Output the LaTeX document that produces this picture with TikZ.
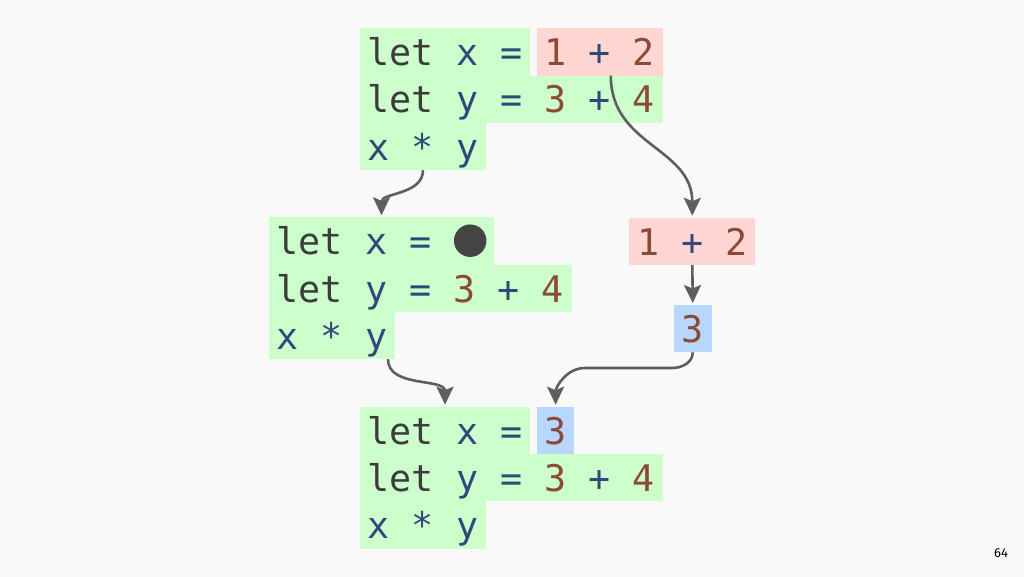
\documentclass[tikz,border=0pt]{standalone}
\usepackage{fontspec}
\setmonofont{DejaVu Sans Mono}
\newfontfamily\pagefont{Fira Sans}
\usetikzlibrary{arrows.meta,calc}
\definecolor{bgc}{HTML}{F9F9F9}
\definecolor{greenc}{HTML}{CCFFCC}
\definecolor{redc}{HTML}{FFD6D2}
\definecolor{bluec}{HTML}{B8D7FF}
\definecolor{kwc}{HTML}{3C3C3C}
\definecolor{idc}{HTML}{2F4A78}
\definecolor{numc}{HTML}{8B4A33}
\definecolor{arrc}{HTML}{5E5E5E}
\definecolor{holec}{HTML}{444444}
\newcommand\cKw[1]{\textcolor{kwc}{#1}}
\newcommand\cId[1]{\textcolor{idc}{#1}}
\newcommand\cNum[1]{\textcolor{numc}{#1}}
\newcommand\codefont{\ttfamily\fontsize{36.7pt}{47.3pt}\selectfont}
\begin{document}
\begin{tikzpicture}[x=1pt,y=-1pt,
  tok/.style={anchor=north west, inner xsep=7.75pt, inner ysep=0pt, outer sep=0pt,
    text height=37.4pt, text depth=9.9pt, font=\codefont},
  gtok/.style={tok, fill=greenc},
  rtok/.style={tok, fill=redc},
  btok/.style={tok, fill=bluec},
  hole/.style={circle, fill=holec, minimum size=32.5pt, inner sep=0pt, outer sep=0pt},
  flow/.style={draw=arrc, line width=2.6pt, shorten >=2pt,
    -{Stealth[length=18pt,width=17pt,inset=3.5pt]}}]
\useasboundingbox (0,0) rectangle (1024,577);
\fill[bgc] (0,0) rectangle (1024,577);
% top block
\node[gtok] (t1) at (360,28.3) {\cKw{let} \cId{x} \cId{=}};
\node[rtok] (t1r) at (536.8,28.3) {\cNum{1} \cId{+} \cNum{2}};
\node[gtok] (t2) at (360,75.6) {\cKw{let} \cId{y} \cId{=} \cNum{3} \cId{+} \cNum{4}};
\node[gtok] (t3) at (360,122.9) {\cId{x} \cId{*} \cId{y}};
% middle block
\node[gtok] (m1) at (269,217.3) {\cKw{let} \cId{x} \cId{=}\hspace*{55.1pt}};
\node[hole] (hl) at (470.2,240.7) {};
\node[gtok] (m2) at (269,264.6) {\cKw{let} \cId{y} \cId{=} \cNum{3} \cId{+} \cNum{4}};
\node[gtok] (m3) at (269,311.9) {\cId{x} \cId{*} \cId{y}};
% right column
\node[rtok] (r12) at (629.3,217.7) {\cNum{1} \cId{+} \cNum{2}};
\node[btok] (r3) at (674,305) {\cNum{3}};
% bottom block
\node[gtok] (b1) at (360,406.7) {\cKw{let} \cId{x} \cId{=}};
\node[btok] (b1b) at (536.8,406.7) {\cNum{3}};
\node[gtok] (b2) at (360,454) {\cKw{let} \cId{y} \cId{=} \cNum{3} \cId{+} \cNum{4}};
\node[gtok] (b3) at (360,501.3) {\cId{x} \cId{*} \cId{y}};
% page number
\node[font=\pagefont\fontsize{13pt}{15pt}\selectfont, text=black] (pg) at (1001,553) {64};
% connector coordinates
\coordinate (s1) at ($(t1r.south)+(11,0)$);
\coordinate (e2) at ($(m1.north west)+(112.5,0)$);
\coordinate (s5) at ($(m3.south east)+(-7,0)$);
\coordinate (e5) at ($(b1.north west)+(85,0)$);
\coordinate (c1) at (672,368);
\coordinate (c2) at (585,368);
% connectors
\draw[flow] (s1) to[out=-90,in=90,looseness=1.1] (r12.north);
\draw[flow] (t3.south) to[out=-90,in=90] (e2);
\draw[flow] (r12.south) -- (r3.north);
\draw[flow] (r3.south) to[out=-90,in=0] (c1) -- (c2) to[out=180,in=90] (b1b.north);
\draw[flow] (s5) to[out=-90,in=90] (e5);
\end{tikzpicture}
\end{document}
